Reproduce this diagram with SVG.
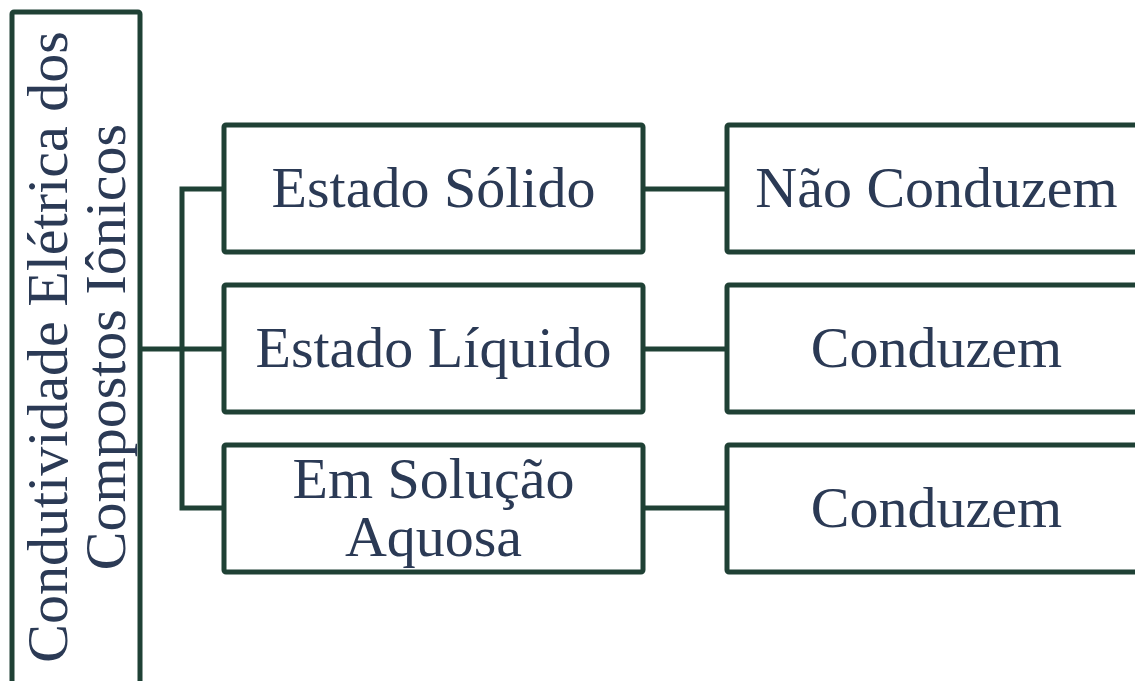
<svg xmlns="http://www.w3.org/2000/svg" width="1135" height="681" viewBox="0 0 1135 681">
<style>
.box{fill:#ffffff;stroke:#1f4135;stroke-width:5;}
.ln{fill:none;stroke:#1f4135;stroke-width:5;}
.t{font-family:"Liberation Serif","Times New Roman",serif;font-size:58px;fill:#2b3a55;text-anchor:middle;}
</style>
<rect width="1135" height="681" fill="#ffffff"/>
<g id="connectors">
<path class="ln" d="M140 349 H224"/>
<path class="ln" d="M224 189 H182 V508 H224"/>
<path class="ln" d="M643 189 H727"/>
<path class="ln" d="M643 349 H727"/>
<path class="ln" d="M643 508 H727"/>
</g>
<g id="root">
<rect class="box" x="12" y="12" width="128" height="672" rx="2"/>
<text class="t" transform="translate(67,347) rotate(-90)">Condutividade Elétrica dos</text>
<text class="t" transform="translate(125,347) rotate(-90)">Compostos Iônicos</text>
</g>
<g id="solido">
<rect class="box" x="224" y="125" width="419" height="127" rx="2"/>
<text class="t" x="433.5" y="207">Estado Sólido</text>
</g>
<g id="liquido">
<rect class="box" x="224" y="285" width="419" height="127" rx="2"/>
<text class="t" x="433.5" y="367">Estado Líquido</text>
</g>
<g id="solucao">
<rect class="box" x="224" y="445" width="419" height="127" rx="2"/>
<text class="t" x="433.5" y="498">Em Solução</text>
<text class="t" x="433.5" y="556">Aquosa</text>
</g>
<g id="nao-conduzem">
<rect class="box" x="727" y="125" width="419" height="127" rx="2"/>
<text class="t" x="936.5" y="207">Não Conduzem</text>
</g>
<g id="conduzem-liquido">
<rect class="box" x="727" y="285" width="419" height="127" rx="2"/>
<text class="t" x="936.5" y="367">Conduzem</text>
</g>
<g id="conduzem-solucao">
<rect class="box" x="727" y="445" width="419" height="127" rx="2"/>
<text class="t" x="936.5" y="527">Conduzem</text>
</g>
</svg>
